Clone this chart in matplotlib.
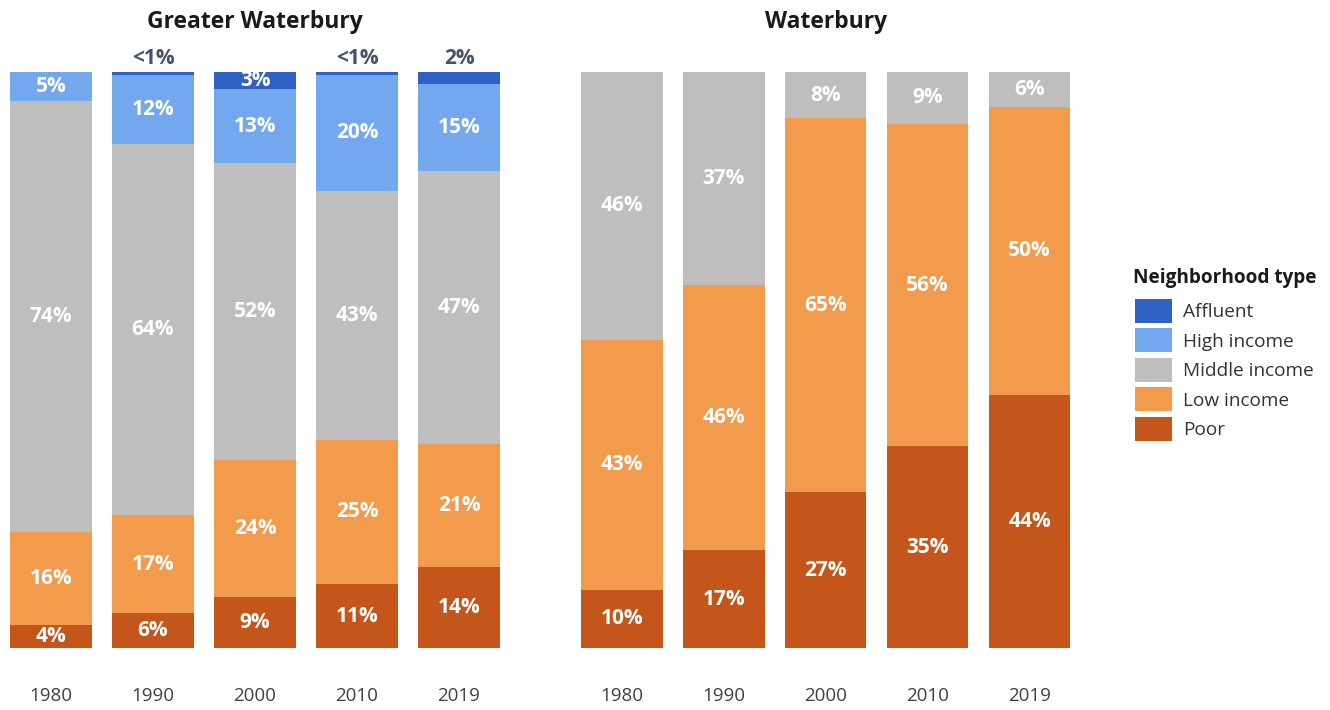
import numpy as np
import matplotlib
matplotlib.use('Agg')
import matplotlib.pyplot as plt
from matplotlib.patches import Patch

plt.rcParams['font.family'] = ['Open Sans', 'DejaVu Sans']

# datos (porcentajes)
years = ['1980', '1990', '2000', '2010', '2019']
categories = ['Affluent', 'High income', 'Middle income', 'Low income', 'Poor']

gw_affluent = [0, 0.5, 3, 0.5, 2]
gw_high = [5, 12, 13, 20, 15]
gw_middle = [74, 64, 52, 43, 47]
gw_low = [16, 17, 24, 25, 21]
gw_poor = [4, 6, 9, 11, 14]

wb_affluent = [0, 0, 0, 0, 0]
wb_high = [0, 0, 0, 0, 0]
wb_middle = [46, 37, 8, 9, 6]
wb_low = [43, 46, 65, 56, 50]
wb_poor = [10, 17, 27, 35, 44]

colors = {
    'Affluent': '#2F62C4',
    'High income': '#73A8EE',
    'Middle income': '#BEBEBE',
    'Low income': '#F29B4C',
    'Poor': '#C4561C',
}


def etiqueta(v):
    if v < 1:
        return '<1%'
    return f'{v:g}%'


def graficar_panel(ax, titulo, series):
    # series de abajo hacia arriba: poor, low, middle, high, affluent
    orden = ['Poor', 'Low income', 'Middle income', 'High income', 'Affluent']
    datos = np.array([series[c] for c in orden], dtype=float)
    totales = datos.sum(axis=0)
    escalado = datos / totales * 100
    x = np.arange(len(years))
    base = np.zeros(len(years))
    for i, cat in enumerate(orden):
        alturas = escalado[i]
        ax.bar(x, alturas, bottom=base, width=0.8, color=colors[cat], linewidth=0)
        for j in range(len(years)):
            v = datos[i, j]
            if v <= 0:
                continue
            if cat == 'Affluent' and v < 3:
                # etiqueta encima de la barra
                ax.text(x[j], 100.5, etiqueta(v), ha='center', va='bottom',
                        color='#44546A', fontsize=15, fontweight='bold')
            else:
                ax.text(x[j], base[j] + alturas[j] / 2, etiqueta(v),
                        ha='center', va='center', color='white',
                        fontsize=15, fontweight='bold')
        base = base + alturas

    ax.set_xlim(-0.5, len(years) - 0.5)
    ax.set_ylim(0, 100)
    ax.set_xticks(x)
    ax.set_xticklabels(years, fontsize=13.5, color='#404040')
    ax.tick_params(axis='x', length=0, pad=28)
    ax.set_yticks([])
    for s in ax.spines.values():
        s.set_visible(False)
    ax.set_title(titulo, fontsize=16.5, fontweight='bold', color='#1a1a1a', pad=32)


fig = plt.figure(figsize=(13.3, 7.1), dpi=100)
ax1 = fig.add_axes([0.0, 0.0873, 0.3835, 0.8113])
ax2 = fig.add_axes([0.4293, 0.0873, 0.3831, 0.8113])

graficar_panel(ax1, 'Greater Waterbury', {
    'Affluent': gw_affluent, 'High income': gw_high, 'Middle income': gw_middle,
    'Low income': gw_low, 'Poor': gw_poor})
graficar_panel(ax2, 'Waterbury', {
    'Affluent': wb_affluent, 'High income': wb_high, 'Middle income': wb_middle,
    'Low income': wb_low, 'Poor': wb_poor})

# leyenda: titulo aparte para controlar el espacio
fig.text(1133 / 1330, 1 - 278 / 710, 'Neighborhood type', ha='left', va='center',
         fontsize=13.7, fontweight='bold', color='#1a1a1a')
handles = [Patch(facecolor=colors[c], edgecolor='none') for c in categories]
leg = fig.legend(handles, categories, loc='upper left', bbox_to_anchor=(1135 / 1330, 1 - 299 / 710),
                 frameon=False, fontsize=13.7,
                 handlelength=1.95, handleheight=1.56, labelspacing=0.29,
                 handletextpad=0.58, borderaxespad=0, borderpad=0)
for t in leg.get_texts():
    t.set_color('#333333')

fig.savefig('out.png', dpi=100)
